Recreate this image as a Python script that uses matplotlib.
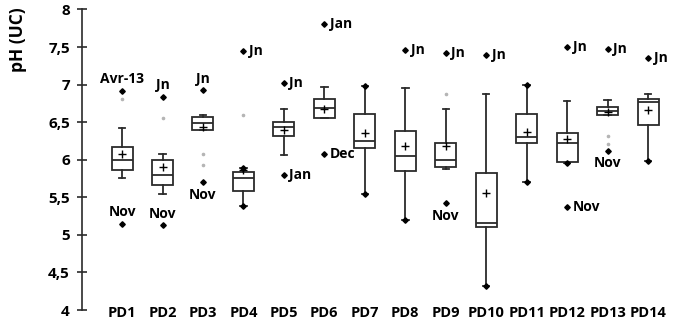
import matplotlib
matplotlib.use("Agg")
import matplotlib.pyplot as plt

plt.rcParams["font.family"] = ["Open Sans", "DejaVu Sans"]
plt.rcParams["font.weight"] = "bold"

categories = ["PD1", "PD2", "PD3", "PD4", "PD5", "PD6", "PD7",
              "PD8", "PD9", "PD10", "PD11", "PD12", "PD13", "PD14"]
whisker_low = [5.76, 5.54, 6.40, 5.38, 6.06, 6.55, 5.54, 5.20, 5.88, 4.32, 5.70, 5.96, 6.60, 5.98]
q1 = [5.87, 5.67, 6.40, 5.59, 6.32, 6.55, 6.16, 5.85, 5.91, 5.10, 6.22, 5.97, 6.60, 6.46]
median = [6.00, 5.80, 6.49, 5.76, 6.44, 6.69, 6.25, 6.05, 6.00, 5.16, 6.30, 6.22, 6.65, 6.77]
q3 = [6.17, 5.99, 6.57, 5.84, 6.50, 6.81, 6.61, 6.38, 6.22, 5.83, 6.61, 6.36, 6.70, 6.81]
whisker_high = [6.42, 6.08, 6.60, 5.89, 6.68, 6.97, 6.98, 6.96, 6.67, 6.87, 7.00, 6.78, 6.79, 6.88]
means = [6.08, 5.90, 6.43, 5.87, 6.40, 6.67, 6.35, 6.18, 6.18, 5.56, 6.37, 6.28, 6.64, 6.66]

# min / max shown with a dot at whisker end
dot_low = [0, 0, 0, 1, 0, 0, 1, 1, 0, 1, 1, 1, 0, 1]
dot_high = [0, 0, 0, 1, 0, 0, 1, 0, 0, 0, 1, 0, 0, 0]

# labelled outliers: (box index, value, label)
outlier_box = [0, 0, 1, 1, 2, 2, 3, 4, 4, 5, 5, 7, 8, 8, 9, 11, 11, 12, 12, 13]
outlier_val = [6.92, 5.15, 6.84, 5.13, 6.93, 5.70, 7.45, 7.02, 5.80, 7.81, 6.07,
               7.46, 7.42, 5.42, 7.39, 7.50, 5.37, 7.48, 6.12, 7.35]
outlier_lab = ["Avr-13", "Nov", "Jn", "Nov", "Jn", "Nov", "Jn", "Jn", "Jan", "Jan", "Dec",
               "Jn", "Jn", "Nov", "Jn", "Jn", "Nov", "Jn", "Nov", "Jn"]
outlier_pos = ["above", "above", "above", "above", "above", "below", "right", "right", "right",
               "right", "right", "right", "right", "below", "right", "right", "right",
               "right", "below", "right"]

# minor (unlabelled) outliers
minor_box = [0, 1, 2, 2, 3, 8, 12, 12]
minor_val = [6.81, 6.55, 6.08, 5.93, 6.60, 6.88, 6.31, 6.21]

yticks = [4, 4.5, 5, 5.5, 6, 6.5, 7, 7.5, 8]
ytick_labels = ["4", "4,5", "5", "5,5", "6", "6,5", "7", "7,5", "8"]

edge = "#2b2b2b"
fig = plt.figure(figsize=(6.8, 3.24), dpi=100)
ax = fig.add_axes([0.12, 0.0432, 0.88, 0.9275])

positions = list(range(1, len(categories) + 1))
stats = []
for i, name in enumerate(categories):
    stats.append(dict(label=name, whislo=whisker_low[i], q1=q1[i], med=median[i],
                      q3=q3[i], whishi=whisker_high[i], mean=means[i], fliers=[]))

ax.bxp(stats, positions=positions, widths=0.52, capwidths=0.16, showmeans=True,
       patch_artist=True, manage_ticks=False,
       boxprops=dict(facecolor="white", edgecolor=edge, linewidth=1.3),
       medianprops=dict(color=edge, linewidth=1.3),
       whiskerprops=dict(color=edge, linewidth=1.3),
       capprops=dict(color=edge, linewidth=1.3),
       meanprops=dict(marker="+", markeredgecolor="black", markersize=6, markeredgewidth=1.0))

for i, p in enumerate(positions):
    if dot_low[i]:
        ax.plot(p, whisker_low[i], "D", color="black", markersize=2.8)
    if dot_high[i]:
        ax.plot(p, whisker_high[i], "D", color="black", markersize=2.8)

ax.plot([positions[b] for b in minor_box], minor_val, "o", color="#b5b5b5",
        markersize=1.6, linestyle="none")
ax.plot([positions[b] for b in outlier_box], outlier_val, "D", color="black",
        markersize=2.8, linestyle="none")

for b, v, lab, pos in zip(outlier_box, outlier_val, outlier_lab, outlier_pos):
    x = positions[b]
    if pos == "right":
        ax.annotate(lab, (x, v), xytext=(4, 0), textcoords="offset points",
                    ha="left", va="center", fontsize=10, fontweight="bold")
    elif pos == "above":
        ax.annotate(lab, (x, v), xytext=(0, 3), textcoords="offset points",
                    ha="center", va="bottom", fontsize=10, fontweight="bold")
    else:
        ax.annotate(lab, (x, v), xytext=(0, -4), textcoords="offset points",
                    ha="center", va="top", fontsize=10, fontweight="bold")

ax.set_xlim(0, 14.79)
ax.set_ylim(4, 8)
ax.set_yticks(yticks)
ax.set_yticklabels(ytick_labels, fontsize=11, fontweight="bold")
ax.set_xticks(positions)
ax.set_xticklabels(categories, fontsize=10.5, fontweight="bold")
ax.tick_params(axis="x", length=0, pad=-3)
ax.tick_params(axis="y", direction="inout", length=7, width=1.2, pad=5, color=edge)

for s in ["top", "right", "bottom"]:
    ax.spines[s].set_visible(False)
ax.spines["left"].set_linewidth(1.2)
ax.spines["left"].set_color(edge)
ax.patch.set_alpha(0)

ax.set_ylabel("pH (UC)", fontsize=12.5, fontweight="bold")
ax.yaxis.set_label_coords(-0.092, 0.9)

fig.savefig("out.png", dpi=100)
